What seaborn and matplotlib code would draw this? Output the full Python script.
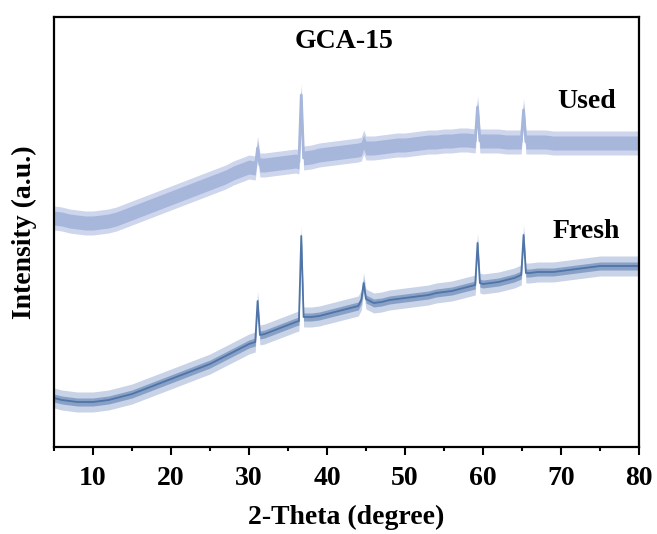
import numpy as np
import pandas as pd
import matplotlib
matplotlib.use("Agg")
import matplotlib.pyplot as plt
import seaborn as sns
from matplotlib.ticker import MultipleLocator

# baseline intensity (a.u.) read every 1 degree, 5..80
two_theta = list(range(5, 81))
used_base = [220, 219, 217, 216, 215, 215, 216, 217, 219, 222,
             225, 228, 231, 234, 237, 240, 243, 246, 249, 252,
             255, 258, 261, 265, 268, 271,
             272, 273, 274, 275, 276, 277, 279, 281, 283, 284,
             285, 286, 287, 288, 289, 290, 291, 292, 293, 293,
             294, 295, 296, 296, 297, 297, 298, 298, 298, 297,
             297, 297, 296, 296, 296, 296, 296, 296, 295, 295,
             295, 295, 295, 295, 295, 295, 295, 295, 295, 295]
fresh_base = [40, 38, 37, 36, 36, 36, 37, 38, 40, 42,
              44, 47, 50, 53, 56, 59, 62, 65, 68, 71,
              74, 78, 82, 86, 90, 94,
              103, 104, 107, 110, 113, 116, 120, 121, 122, 124,
              126, 128, 130, 132, 134, 135, 136, 138, 139, 140,
              141, 142, 143, 145, 146, 147, 149, 151, 153, 154,
              155, 156, 158, 160, 163, 165, 166, 166, 166, 167,
              168, 169, 170, 171, 172, 172, 172, 172, 172, 172]

# reflections: position, top, base on each side
peak_pos = [31.1, 36.7, 44.7, 59.3, 65.2]
used_top = [290, 343, 296, 331, 328]
used_left = [270, 276, 289, 297, 296]
used_right = [273, 280, 290, 297, 296]
fresh_top = [137, 202, 155, 195, 203]
fresh_left = [96, 117, 138, 153, 163]
fresh_right = [103, 121, 139, 155, 165]

# noise half-width (a.u.): dense core and sparse spikes
used_noise_core = 7
used_noise_outer = 12
fresh_noise_core = 4
fresh_noise_outer = 10


def build_series(base, top, left, right):
    x = np.array(two_theta, dtype=float)
    y = np.array(base, dtype=float)
    keep = np.ones(len(x), dtype=bool)
    for p in peak_pos:
        keep &= np.abs(x - p) > 0.45
    xs = list(x[keep])
    ys = list(y[keep])
    for p, t, l, r in zip(peak_pos, top, left, right):
        xs += [p - 0.3, p, p + 0.3]
        ys += [l, t, r]
    df = pd.DataFrame({"two_theta": xs, "intensity": ys}).sort_values("two_theta")
    return df.reset_index(drop=True)


used = build_series(used_base, used_top, used_left, used_right)
fresh = build_series(fresh_base, fresh_top, fresh_left, fresh_right)

sns.set_style("white")
plt.rcParams["font.family"] = ["Liberation Serif", "DejaVu Serif"]
plt.rcParams["font.weight"] = "bold"
plt.rcParams["text.color"] = "black"
plt.rcParams["xtick.color"] = "black"
plt.rcParams["axes.labelcolor"] = "black"

fig = plt.figure(figsize=(6.57, 5.34), dpi=100)
# axes box: x 54..639 px, y 17..447 px
ax = fig.add_axes([54 / 657, 87 / 534, 585 / 657, 430 / 534])

used_c = "#a7b6db"
used_halo = "#cdd6ec"
fresh_c = "#4f74a8"
fresh_mid = "#7d98c0"
fresh_halo = "#c8d3e7"

# noise bands
ax.fill_between(used["two_theta"], used["intensity"] - used_noise_outer,
                used["intensity"] + used_noise_outer, color=used_halo, lw=0)
ax.fill_between(used["two_theta"], used["intensity"] - used_noise_core,
                used["intensity"] + used_noise_core, color=used_c, lw=0)
ax.fill_between(fresh["two_theta"], fresh["intensity"] - fresh_noise_outer,
                fresh["intensity"] + fresh_noise_outer, color=fresh_halo, lw=0)
ax.fill_between(fresh["two_theta"], fresh["intensity"] - fresh_noise_core,
                fresh["intensity"] + fresh_noise_core, color=fresh_mid, lw=0, alpha=0.85)

sns.lineplot(data=used, x="two_theta", y="intensity", color=used_c, lw=2.0, ax=ax)
sns.lineplot(data=fresh, x="two_theta", y="intensity", color=fresh_c, lw=1.3, ax=ax)

ax.set_xlim(5, 80)
ax.set_ylim(-9, 421)
ax.set_yticks([])
ax.xaxis.set_major_locator(MultipleLocator(10))
ax.xaxis.set_minor_locator(MultipleLocator(5))
ax.tick_params(axis="x", which="major", direction="out", length=6, width=1.5,
               labelsize=20, pad=8, bottom=True)
ax.tick_params(axis="x", which="minor", direction="out", length=3, width=1.5, bottom=True)
for lab in ax.get_xticklabels():
    lab.set_fontweight("bold")
for sp in ax.spines.values():
    sp.set_linewidth(1.6)
    sp.set_color("black")

ax.set_xlabel("2-Theta (degree)", fontsize=20, fontweight="bold", labelpad=10)
ax.set_ylabel("Intensity (a.u.)", fontsize=20, fontweight="bold", labelpad=12)

ax.text(42.2, 397, "GCA-15", ha="center", va="center", fontsize=20, fontweight="bold")
ax.text(73.3, 337, "Used", ha="center", va="center", fontsize=20, fontweight="bold")
ax.text(73.2, 207, "Fresh", ha="center", va="center", fontsize=20, fontweight="bold")

fig.savefig("out.png", dpi=100)
